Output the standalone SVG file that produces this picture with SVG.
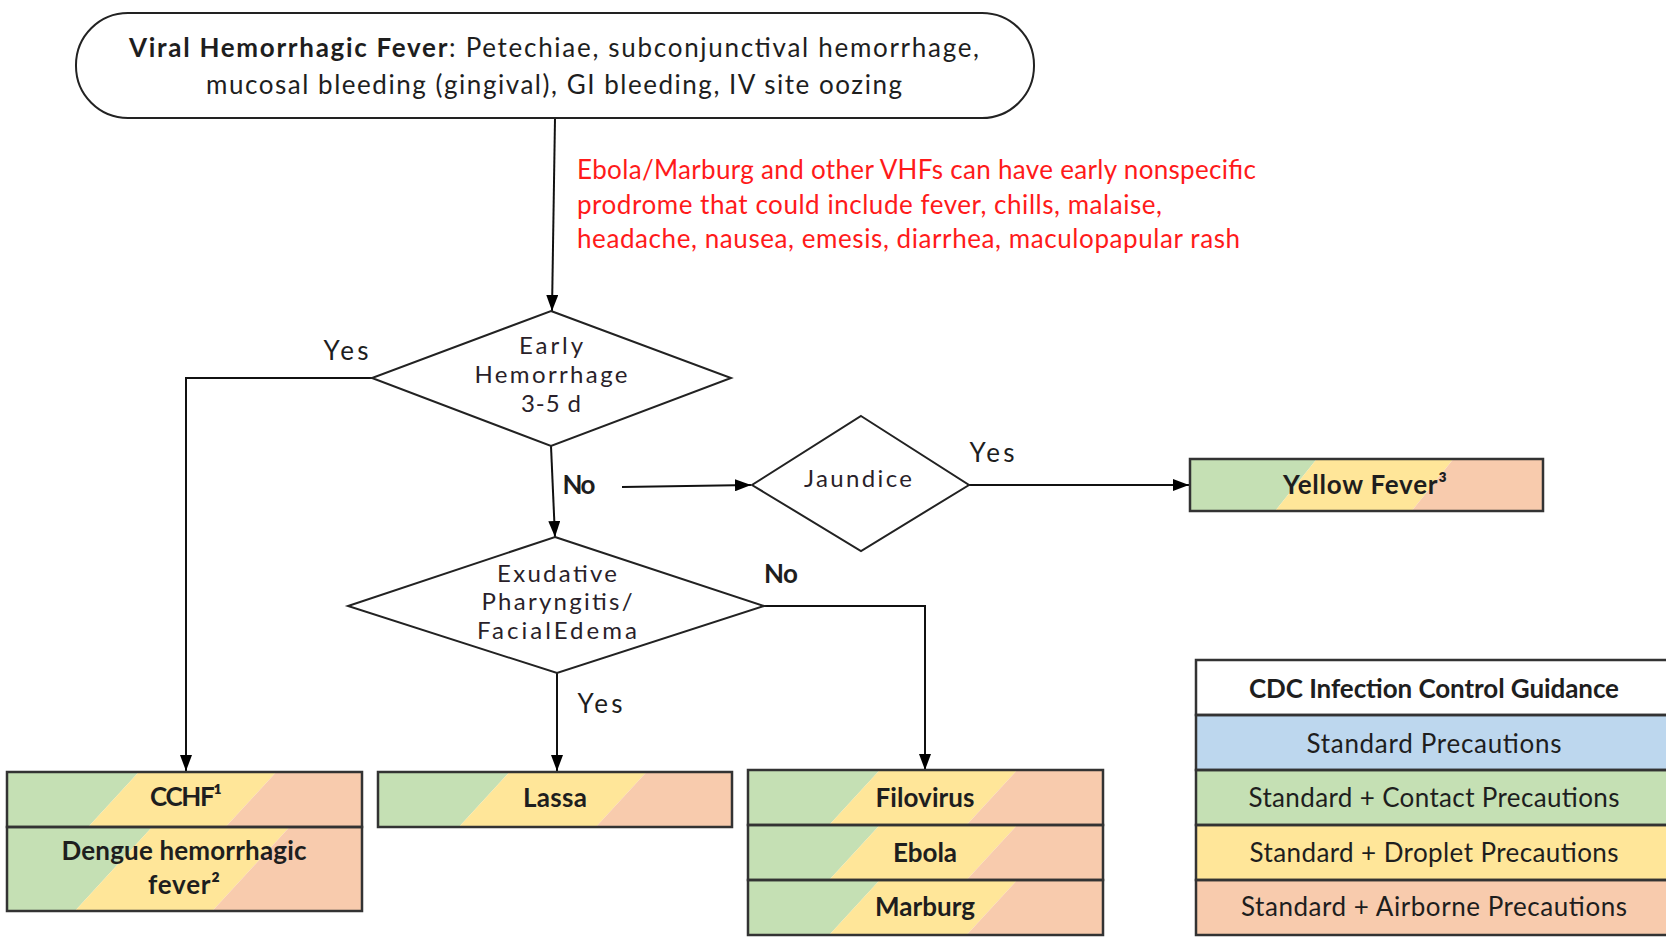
<svg xmlns="http://www.w3.org/2000/svg" width="1666" height="938" viewBox="0 0 1666 938">
<style>
text{font-family:Lato,"Open Sans","Liberation Sans",sans-serif;fill:#1e1e1e}
.lbl{font-size:26px;text-anchor:middle}
.b{font-weight:bold}
.red{fill:#ff1a1a;font-size:26px}
.dt{font-size:24px;text-anchor:middle;fill:#2a1f2a}
.node{fill:#fff;stroke:#222;stroke-width:2}
.box{fill:none;stroke:#333;stroke-width:2.5}
.g{fill:#c5e0b4}.y{fill:#ffe699}.o{fill:#f8cbad}.bl{fill:#bdd7ee}.w{fill:#fff}
.con{fill:none;stroke:#111;stroke-width:2}
</style>
<defs>
<marker id="arr" viewBox="0 0 16 12" refX="16" refY="6" markerWidth="16" markerHeight="12" markerUnits="userSpaceOnUse" orient="auto">
<path d="M0,0 L16,6 L0,12 z" fill="#000"/>
</marker>
</defs>
<rect width="1666" height="938" fill="#fff"/>

<g id="connectors">
<path class="con" d="M555,118 L552,311" marker-end="url(#arr)"/>
<path class="con" d="M372,378 L186,378 L186,771" marker-end="url(#arr)"/>
<path class="con" d="M551,446 L555,537" marker-end="url(#arr)"/>
<path class="con" d="M622,487 L751,485" marker-end="url(#arr)"/>
<path class="con" d="M969,485 L1189,485" marker-end="url(#arr)"/>
<path class="con" d="M764,606 L925,606 L925,770" marker-end="url(#arr)"/>
<path class="con" d="M557,673 L557,771" marker-end="url(#arr)"/>
<text class="lbl" x="346" y="360" textLength="45">Yes</text>
<text class="lbl b" x="579" y="494" textLength="33">No</text>
<text class="lbl" x="992" y="462" textLength="45">Yes</text>
<text class="lbl b" x="781" y="583" textLength="34">No</text>
<text class="lbl" x="600" y="713" textLength="45">Yes</text>
</g>

<g id="start">
<rect class="node" x="76" y="13" width="958" height="105" rx="52" ry="52"/>
<text class="lbl" x="554" y="57" font-size="28" textLength="850"><tspan class="b">Viral Hemorrhagic Fever</tspan>: Petechiae, subconjunctival hemorrhage,</text>
<text class="lbl" x="554" y="94" font-size="28" textLength="696">mucosal bleeding (gingival), GI bleeding, IV site oozing</text>
</g>

<g id="note">
<text class="red" x="577" y="179" textLength="679">Ebola/Marburg and other VHFs can have early nonspecific</text>
<text class="red" x="577" y="214" textLength="585">prodrome that could include fever, chills, malaise,</text>
<text class="red" x="577" y="248" textLength="663">headache, nausea, emesis, diarrhea, maculopapular rash</text>
</g>

<g id="early-hemorrhage">
<polygon class="node" points="551,311 731,378 551,446 372,378"/>
<text class="dt" x="551" y="354" textLength="64">Early</text>
<text class="dt" x="551" y="383" textLength="153">Hemorrhage</text>
<text class="dt" x="551" y="412" textLength="60">3-5 d</text>
</g>

<g id="jaundice">
<polygon class="node" points="861,416 969,485 861,551 752,485"/>
<text class="dt" x="858" y="487" textLength="108">Jaundice</text>
</g>

<g id="exudative">
<polygon class="node" points="555,537 764,606 557,673 348,606"/>
<text class="dt" x="557" y="582" textLength="120">Exudative</text>
<text class="dt" x="557" y="610" textLength="151">Pharyngitis/</text>
<text class="dt" x="557" y="639" textLength="160">FacialEdema</text>
</g>

<g id="yellow-fever">
<polygon class="g" points="1190,459 1316.7,459 1275.1,511 1190,511"/>
<polygon class="y" points="1316.7,459 1453.3,459 1411.7,511 1275.1,511"/>
<polygon class="o" points="1453.3,459 1543,459 1543,511 1411.7,511"/>
<rect class="box" x="1190" y="459" width="353" height="52"/>
<text class="lbl b" x="1365" y="494" textLength="164">Yellow Fever³</text>
</g>

<g id="cchf">
<polygon class="g" points="7,772 138.8,772 88.2,827 7,827"/>
<polygon class="y" points="138.8,772 276.2,772 225.6,827 88.2,827"/>
<polygon class="o" points="276.2,772 362,772 362,827 225.6,827"/>
<polygon class="g" points="7,827 152.1,827 74.9,911 7,911"/>
<polygon class="y" points="152.1,827 289.5,827 212.3,911 74.9,911"/>
<polygon class="o" points="289.5,827 362,827 362,911 212.3,911"/>
<rect class="box" x="7" y="772" width="355" height="55"/>
<rect class="box" x="7" y="827" width="355" height="84"/>
<text class="lbl b" x="186" y="806" textLength="72">CCHF¹</text>
<text class="lbl b" x="184" y="860" textLength="245">Dengue hemorrhagic</text>
<text class="lbl b" x="184" y="894" textLength="72">fever²</text>
</g>

<g id="lassa">
<polygon class="g" points="378,772 509.5,772 458.9,827 378,827"/>
<polygon class="y" points="509.5,772 646.5,772 595.9,827 458.9,827"/>
<polygon class="o" points="646.5,772 732,772 732,827 595.9,827"/>
<rect class="box" x="378" y="772" width="354" height="55"/>
<text class="lbl b" x="555" y="807" textLength="64">Lassa</text>
</g>

<g id="filovirus">
<polygon class="g" points="748,770 879.8,770 829.2,825 748,825"/>
<polygon class="y" points="879.8,770 1017.2,770 966.6,825 829.2,825"/>
<polygon class="o" points="1017.2,770 1103,770 1103,825 966.6,825"/>
<polygon class="g" points="748,825 879.8,825 829.2,880 748,880"/>
<polygon class="y" points="879.8,825 1017.2,825 966.6,880 829.2,880"/>
<polygon class="o" points="1017.2,825 1103,825 1103,880 966.6,880"/>
<polygon class="g" points="748,880 879.8,880 829.2,935 748,935"/>
<polygon class="y" points="879.8,880 1017.2,880 966.6,935 829.2,935"/>
<polygon class="o" points="1017.2,880 1103,880 1103,935 966.6,935"/>
<rect class="box" x="748" y="770" width="355" height="55"/>
<rect class="box" x="748" y="825" width="355" height="55"/>
<rect class="box" x="748" y="880" width="355" height="55"/>
<text class="lbl b" x="925" y="807" textLength="99">Filovirus</text>
<text class="lbl b" x="925" y="862" textLength="64">Ebola</text>
<text class="lbl b" x="925" y="916" textLength="100">Marburg</text>
</g>

<g id="legend">
<rect class="w" x="1196" y="660" width="480" height="55"/>
<rect class="bl" x="1196" y="715" width="480" height="55"/>
<rect class="g" x="1196" y="770" width="480" height="55"/>
<rect class="y" x="1196" y="825" width="480" height="55"/>
<rect class="o" x="1196" y="880" width="480" height="55"/>
<rect class="box" x="1196" y="660" width="480" height="55"/>
<rect class="box" x="1196" y="715" width="480" height="55"/>
<rect class="box" x="1196" y="770" width="480" height="55"/>
<rect class="box" x="1196" y="825" width="480" height="55"/>
<rect class="box" x="1196" y="880" width="480" height="55"/>
<text class="lbl b" x="1434" y="698" textLength="370">CDC Infection Control Guidance</text>
<text class="lbl" x="1434" y="753" textLength="255">Standard Precautions</text>
<text class="lbl" x="1434" y="807" textLength="371">Standard + Contact Precautions</text>
<text class="lbl" x="1434" y="862" textLength="369">Standard + Droplet Precautions</text>
<text class="lbl" x="1434" y="916" textLength="386">Standard + Airborne Precautions</text>
</g>
</svg>
